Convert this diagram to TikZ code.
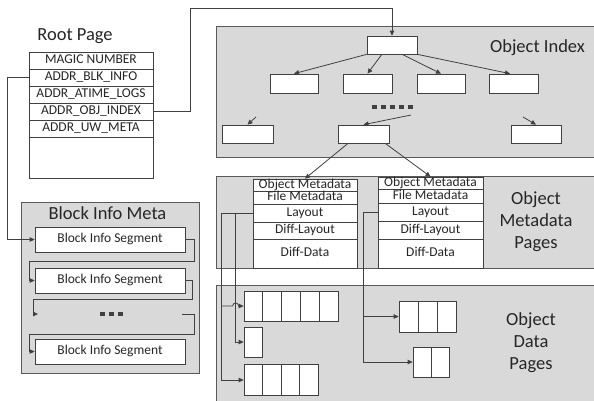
\documentclass[tikz,border=0pt]{standalone}
\usepackage{fontspec}
\setmainfont{Carlito}
\usetikzlibrary{arrows.meta,calc}
\definecolor{panelfill}{HTML}{D9D9D9}
\definecolor{panelline}{HTML}{595959}
\definecolor{wirecol}{HTML}{404040}
\definecolor{textcol}{HTML}{262626}
\begin{document}
\begin{tikzpicture}[x=1pt,y=-1pt,
  panel/.style={fill=panelfill, draw=panelline, line width=0.8pt},
  box/.style={draw=wirecol, fill=white, line width=0.7pt, inner sep=0pt, text=textcol,
    font=\fontsize{13.5}{16}\selectfont, text height=9pt, text depth=2.5pt},
  cell/.style={draw=wirecol, fill=white, line width=0.7pt, inner sep=0pt},
  wire/.style={draw=wirecol, line width=0.8pt},
  arr/.style={wire, -{Triangle[length=5pt,width=4.5pt]}},
  dashbar/.style={draw=wirecol, line width=3.4pt},
  title/.style={font=\fontsize{18.5}{22}\selectfont, align=center, inner sep=0pt, text=textcol}]
\useasboundingbox (0,0) rectangle (594,400);
\clip (0,0) rectangle (594,400);

% panels
\path[panel] (216,26) rectangle (600,157);
\path[panel] (216,176) rectangle (600,268);
\path[panel] (216,285) rectangle (600,410);
\path[panel] (21,202) rectangle (199,373);

% titles
\node[title, anchor=base] (rptitle) at (75,40) {Root Page};
\node[title, anchor=base] (oititle) at (537.5,52) {Object Index};
\node[title] (omtitle) at (536,222) {Object\\Metadata\\Pages};
\node[title] (odtitle) at (531,343) {Object\\Data\\Pages};
\node[title, anchor=base] (bimtitle) at (107.5,219) {Block Info Meta};

% root page
\node[box, minimum width=124pt, minimum height=17pt] (magic) at (91,60.5) {MAGIC NUMBER};
\node[box, minimum width=124pt, minimum height=17pt] (blk) at (91,77.5) {ADDR\_BLK\_INFO};
\node[box, minimum width=124pt, minimum height=17pt] (atime) at (91,94.5) {ADDR\_ATIME\_LOGS};
\node[box, minimum width=124pt, minimum height=17pt] (obj) at (91,111.5) {ADDR\_OBJ\_INDEX};
\node[box, minimum width=124pt, minimum height=17pt] (uw) at (91,128.5) {ADDR\_UW\_META};
\node[box, minimum width=124pt, minimum height=41pt] (rpempty) at (91,157.5) {};

% block info segments
\node[box, minimum width=150pt, minimum height=25pt] (seg1) at (110,239.5) {Block Info Segment};
\node[box, minimum width=150pt, minimum height=25pt] (seg2) at (110,280.5) {Block Info Segment};
\node[box, minimum width=150pt, minimum height=25pt] (seg3) at (110,351.5) {Block Info Segment};
\coordinate (dotsin) at (38,314);
\coordinate (dotsout) at (182,314);
\draw[dashbar, dash pattern=on 5pt off 4pt] (100,314) -- (125,314);

% object index tree
\node[cell, minimum width=50pt, minimum height=18pt] (iroot) at (392,45) {};
\node[cell, minimum width=48pt, minimum height=19pt] (ia) at (294,83.5) {};
\node[cell, minimum width=49pt, minimum height=19pt] (ib) at (367.5,83.5) {};
\node[cell, minimum width=48pt, minimum height=19pt] (ic) at (441,83.5) {};
\node[cell, minimum width=49pt, minimum height=19pt] (id) at (513.5,83.5) {};
\node[cell, minimum width=51pt, minimum height=18pt] (il) at (247.5,134) {};
\node[cell, minimum width=51pt, minimum height=18pt] (im) at (363.5,134) {};
\node[cell, minimum width=50pt, minimum height=18pt] (ir) at (536,134) {};
\draw[dashbar, dash pattern=on 5.4pt off 3.5pt] (372,107) -- (413,107);
\coordinate (sl) at (256,117);
\coordinate (sm) at (411,115);
\coordinate (sr) at (523,117);

% metadata blocks
\node[box, minimum width=104pt, minimum height=12pt] (lom) at (305,185) {Object Metadata};
\node[box, minimum width=104pt, minimum height=13pt] (lfm) at (305,197.5) {File Metadata};
\node[box, minimum width=104pt, minimum height=18pt] (llay) at (305,213) {Layout};
\node[box, minimum width=104pt, minimum height=17pt] (ldl) at (305,230.5) {Diff-Layout};
\node[box, minimum width=104pt, minimum height=29pt] (ldd) at (305,253.5) {Diff-Data};
\node[box, minimum width=105pt, minimum height=12pt] (rom) at (430.5,183) {Object Metadata};
\node[box, minimum width=105pt, minimum height=14pt] (rfm) at (430.5,196) {File Metadata};
\node[box, minimum width=105pt, minimum height=18pt] (rlay) at (430.5,212) {Layout};
\node[box, minimum width=105pt, minimum height=18pt] (rdl) at (430.5,230) {Diff-Layout};
\node[box, minimum width=105pt, minimum height=29pt] (rdd) at (430.5,253.5) {Diff-Data};

% data pages
\foreach \i in {1,...,5} \node[cell, minimum width=18.8pt, minimum height=30pt] (A\i) at ({253.4+18.8*(\i-1)},306) {};
\node[cell, minimum width=18pt, minimum height=30pt] (B1) at (253,342) {};
\foreach \i in {1,...,4} \node[cell, minimum width=18.5pt, minimum height=31pt] (C\i) at ({253.25+18.5*(\i-1)},380) {};
\foreach \i in {1,...,3} \node[cell, minimum width=19pt, minimum height=31pt] (D\i) at ({408.5+19*(\i-1)},316.5) {};
\foreach \i in {1,...,2} \node[cell, minimum width=18pt, minimum height=30pt] (E\i) at ({422+18*(\i-1)},362) {};

% connectors: root page
\coordinate (bx) at (7,0);
\draw[arr] (blk.west) -- (bx |- blk.west) |- (seg1.west);
\coordinate (ox) at (190,8);
\draw[arr] (obj.east) -| (ox) -| (iroot.north);

% connectors: block info chain
\draw[arr] (seg1.east) -| ($(seg1.east)+(9,21.5)$) -| ($(seg2.west)+(-5,0)$) -- (seg2.west);
\draw[arr] (seg2.east) -| ($(seg2.east)+(7,18.5)$) -| ($(dotsin)+(-5,0)$) -- (dotsin);
\draw[arr] (dotsout) -| ($(dotsout)+(12,20)$) -| ($(seg3.west)+(-5,0)$) -- (seg3.west);

% connectors: index tree
\draw[arr] (iroot.south west) -- (ia.north);
\draw[arr] ($(iroot.south west)!0.3!(iroot.south east)$) -- (ib.north);
\draw[arr] ($(iroot.south west)!0.7!(iroot.south east)$) -- (ic.north);
\draw[arr] (iroot.south east) -- ($(id.north west)!0.43!(id.north east)$);
\draw[arr] (sl) -- (il.north);
\draw[arr] (sm) -- (im.north);
\draw[arr] (sr) -- (ir.north);
\draw[arr] ($(im.south west)!0.2!(im.south east)$) -- (lom.north);
\draw[arr] ($(im.south west)!0.92!(im.south east)$) -- (rom.north);

% connectors: layouts to data
\coordinate (lx1) at ($(llay.west)+(-31,0)$);
\coordinate (lx2) at ($(llay.west)+(-17,0)$);
\coordinate (hopc) at (lx2 |- A1.west);
\draw[wire] (llay.west) -- (lx1);
\draw[arr] (lx1) |- (C1.west);
\draw[arr] (lx2) |- (B1.west);
\draw[arr] (lx1 |- A1.west) -- ($(hopc)+(-3,0)$) .. controls ($(hopc)+(-3,-4)$) and ($(hopc)+(3,-4)$) .. ($(hopc)+(3,0)$) -- (A1.west);
\coordinate (rx) at ($(rlay.west)+(-14,0)$);
\draw[wire] (rlay.west) -- (rx);
\draw[arr] (rx) |- (E1.west);
\draw[arr] (rx |- D1.west) -- (D1.west);
\end{tikzpicture}
\end{document}
